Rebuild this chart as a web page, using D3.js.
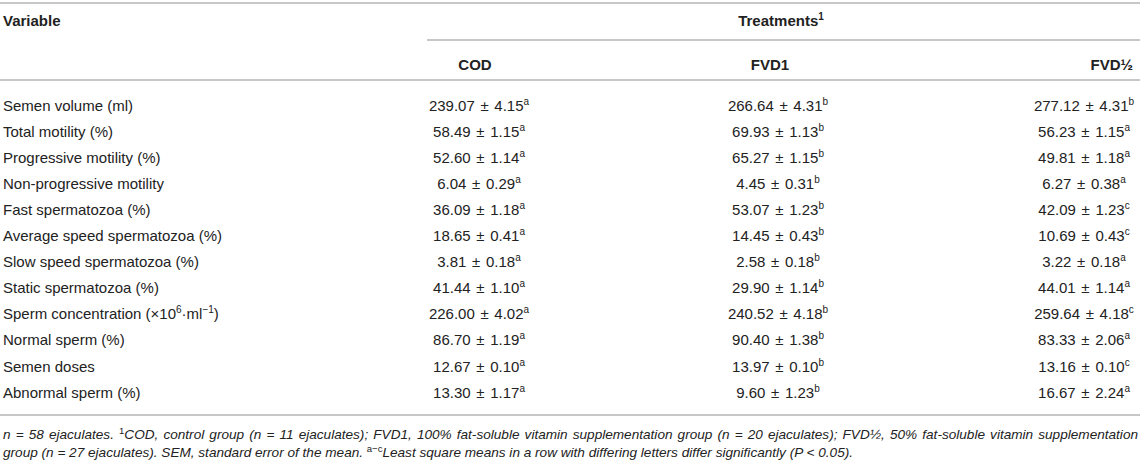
<!DOCTYPE html>
<html><head><meta charset="utf-8">
<script src="https://cdn.jsdelivr.net/npm/d3@7/dist/d3.min.js"></script>
<style>
body{margin:0;background:#fff;}
svg{display:block;font-family:"Liberation Sans",Arial,Helvetica,sans-serif;}
</style></head><body>
<svg id="t" width="1143" height="465"></svg>
<script>
// ---------- data ----------
const treatments = ["COD", "FVD1", "FVD½"];
const variables = [
  "Semen volume (ml)", "Total motility (%)", "Progressive motility (%)",
  "Non-progressive motility", "Fast spermatozoa (%)", "Average speed spermatozoa (%)",
  "Slow speed spermatozoa (%)", "Static spermatozoa (%)", "Sperm concentration",
  "Normal sperm (%)", "Semen doses", "Abnormal sperm (%)"
];
const codMean  = [239.07, 58.49, 52.60, 6.04, 36.09, 18.65, 3.81, 41.44, 226.00, 86.70, 12.67, 13.30];
const codSem   = [4.15, 1.15, 1.14, 0.29, 1.18, 0.41, 0.18, 1.10, 4.02, 1.19, 0.10, 1.17];
const codSig   = ["a","a","a","a","a","a","a","a","a","a","a","a"];
const fvd1Mean = [266.64, 69.93, 65.27, 4.45, 53.07, 14.45, 2.58, 29.90, 240.52, 90.40, 13.97, 9.60];
const fvd1Sem  = [4.31, 1.13, 1.15, 0.31, 1.23, 0.43, 0.18, 1.14, 4.18, 1.38, 0.10, 1.23];
const fvd1Sig  = ["b","b","b","b","b","b","b","b","b","b","b","b"];
const fvdHMean = [277.12, 56.23, 49.81, 6.27, 42.09, 10.69, 3.22, 44.01, 259.64, 83.33, 13.16, 16.67];
const fvdHSem  = [4.31, 1.15, 1.18, 0.38, 1.23, 0.43, 0.18, 1.14, 4.18, 2.06, 0.10, 2.24];
const fvdHSig  = ["b","a","a","a","c","c","a","a","c","a","c","a"];
const footLine1 = [["n = 58 ejaculates. "],["1","sup"],["COD, control group (n = 11 ejaculates); FVD1, 100% fat-soluble vitamin supplementation group (n = 20 ejaculates); FVD½, 50% fat-soluble vitamin supplementation"]];
const footLine2 = [["group (n = 27 ejaculates). SEM, standard error of the mean. "],["a−c","sup"],["Least square means in a row with differing letters differ significantly (P < 0.05)."]];

// ---------- layout ----------
const svg = d3.select("#t");
const RIGHT = 1140;
const ink = "#222";
const rule = "#b4b4b4";
const fmt = d3.format(".2f");

const y = d3.scaleBand().domain(variables).range([92, 405.2]).padding(0);
const colX = d3.scaleOrdinal().domain(treatments).range([479, 778, 1084]);
const headX = d3.scaleOrdinal().domain(treatments).range([475, 770, 1133]);
const headAnchor = d3.scaleOrdinal().domain(treatments).range(["middle","middle","end"]);

const series = {
  "COD":  {m: codMean,  s: codSem,  g: codSig},
  "FVD1": {m: fvd1Mean, s: fvd1Sem, g: fvd1Sig},
  "FVD½": {m: fvdHMean, s: fvdHSem, g: fvdHSig}
};

// rules
function hline(x1, x2, yy){
  svg.append("line").attr("x1",x1).attr("x2",x2).attr("y1",yy).attr("y2",yy)
    .attr("stroke",rule).attr("stroke-width",1.3);
}
hline(0, RIGHT, 3);
hline(427, RIGHT, 40);
hline(0, RIGHT, 80);
hline(0, RIGHT, 415);

// header
svg.append("text").attr("x",3).attr("y",26).attr("fill",ink)
  .attr("font-size",15).attr("font-weight","bold").text("Variable");
const th = svg.append("text").attr("x",781).attr("y",26).attr("fill",ink)
  .attr("font-size",15).attr("font-weight","bold").attr("text-anchor","middle");
th.append("tspan").text("Treatments");
th.append("tspan").attr("font-size",10).attr("dy",-6).text("1");

svg.selectAll("text.colhead").data(treatments).join("text")
  .attr("class","colhead")
  .attr("x",d=>headX(d)).attr("y",70).attr("text-anchor",d=>headAnchor(d))
  .attr("fill",ink).attr("font-size",15).attr("font-weight","bold").text(d=>d);

// row labels
const rowBase = d => y(d) + y.bandwidth()/2 + 5.5;
const labels = svg.selectAll("text.lab").data(variables).join("text")
  .attr("class","lab").attr("x",3).attr("y",rowBase)
  .attr("fill",ink).attr("font-size",15);
labels.each(function(d){
  const t = d3.select(this);
  if (d === "Sperm concentration"){
    t.append("tspan").text("Sperm concentration (×10");
    t.append("tspan").attr("font-size",10).attr("dy",-6).text("6");
    t.append("tspan").attr("dy",6).text("·ml");
    t.append("tspan").attr("font-size",10).attr("dy",-6).text("−1");
    t.append("tspan").attr("dy",6).text(")");
  } else t.text(d);
});

// cells
treatments.forEach((tr, k) => {
  const s = series[tr];
  const cells = svg.selectAll("text.c"+k).data(variables).join("text")
    .attr("class","c"+k)
    .attr("x",colX(tr)).attr("y",rowBase).attr("text-anchor","middle")
    .attr("fill",ink).attr("font-size",15).attr("word-spacing",1.5);
  cells.each(function(d,i){
    const t = d3.select(this);
    t.append("tspan").text(fmt(s.m[i]) + " ± " + fmt(s.s[i]));
    t.append("tspan").attr("font-size",10).attr("dy",-6).text(s.g[i]);
  });
});

// footnote
function foot(parts, yy){
  const t = svg.append("text").attr("x",3).attr("y",yy).attr("fill",ink)
    .attr("font-size",13.6).attr("font-style","italic");
  parts.forEach((p, j)=>{
    if (p[1]==="sup") t.append("tspan").attr("font-size",9.5).attr("dy",-5).attr("font-style","normal").text(p[0]);
    else t.append("tspan").attr("dy", j ? 5 : 0).text(p[0]);
  });
  return t;
}
const f1 = foot(footLine1, 439);
foot(footLine2, 457);
// justify first footnote line to the table width
const bb = f1.node().getBBox();
const nSpaces = footLine1.map(p=>p[0]).join("").split(" ").length - 1;
if (nSpaces > 0 && bb.x + bb.width < RIGHT - 2) {
  f1.attr("word-spacing", (RIGHT - 2 - (bb.x + bb.width)) / nSpaces);
}
</script>
</body></html>
